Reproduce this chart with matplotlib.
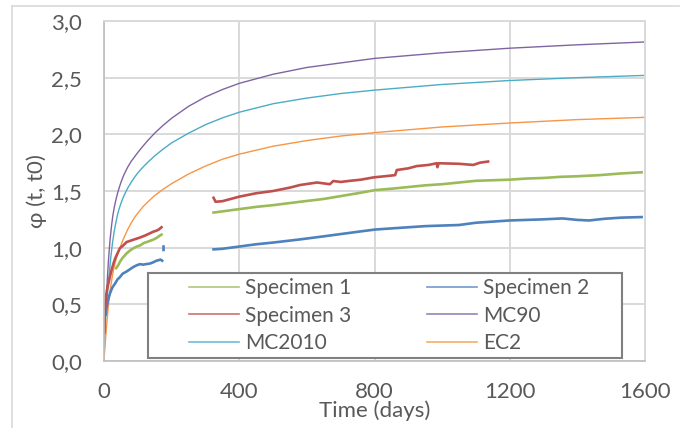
import numpy as np
import matplotlib
matplotlib.use("Agg")
import matplotlib.pyplot as plt
from matplotlib.lines import Line2D
from matplotlib.patches import Rectangle

plt.rcParams['font.family'] = ['Lato', 'DejaVu Sans']

# ---- creep-coefficient models (days after loading, phi) ----
model_days = [0, 1, 2, 3, 4, 5, 6, 8, 10, 12, 14, 16, 18, 20, 23, 26, 30, 35, 40,
              45, 50, 55, 60, 70, 80, 90, 100, 115, 130, 150, 175, 200, 250, 300,
              350, 400, 500, 600, 700, 800, 1000, 1200, 1400, 1600]
mc90 = [0, 0.15, 0.26, 0.35, 0.41, 0.46, 0.51, 0.62, 0.73, 0.83, 0.92, 1.00, 1.07,
        1.13, 1.21, 1.28, 1.35, 1.42, 1.48, 1.53, 1.575, 1.615, 1.65, 1.71, 1.76,
        1.80, 1.84, 1.895, 1.947, 2.011, 2.08, 2.142, 2.247, 2.33, 2.395, 2.45,
        2.53, 2.59, 2.63, 2.67, 2.72, 2.76, 2.79, 2.815]
mc2010 = [0, 0.10, 0.19, 0.27, 0.33, 0.38, 0.43, 0.51, 0.59, 0.66, 0.73, 0.79, 0.85,
          0.91, 0.99, 1.06, 1.14, 1.22, 1.29, 1.345, 1.39, 1.43, 1.465, 1.525, 1.575,
          1.62, 1.66, 1.71, 1.755, 1.81, 1.87, 1.925, 2.01, 2.085, 2.145, 2.195,
          2.27, 2.32, 2.36, 2.39, 2.44, 2.475, 2.50, 2.52]
ec2 = [0, 0.05, 0.09, 0.13, 0.17, 0.21, 0.25, 0.32, 0.39, 0.46, 0.52, 0.57, 0.62,
       0.66, 0.72, 0.77, 0.83, 0.89, 0.94, 0.98, 1.02, 1.06, 1.095, 1.16, 1.215,
       1.265, 1.305, 1.36, 1.405, 1.46, 1.515, 1.565, 1.65, 1.72, 1.78, 1.825,
       1.895, 1.945, 1.985, 2.015, 2.065, 2.10, 2.13, 2.15]

# ---- measured specimens: early segment, gap, long-term segment ----
s1_days_a = [36, 42, 47, 55, 67, 77, 87, 97, 107, 117, 127, 136, 145, 155, 162, 170]
s1_vals_a = [0.82, 0.845, 0.875, 0.91, 0.95, 0.975, 0.995, 1.01, 1.02, 1.04, 1.05,
             1.06, 1.07, 1.085, 1.10, 1.115]
s1_days_b = [324, 350, 400, 450, 500, 580, 650, 700, 750, 802, 850, 900, 950, 1000,
             1050, 1100, 1150, 1200, 1250, 1300, 1350, 1400, 1466, 1530, 1590]
s1_vals_b = [1.31, 1.32, 1.34, 1.36, 1.375, 1.405, 1.43, 1.455, 1.48, 1.508, 1.52,
             1.535, 1.55, 1.56, 1.575, 1.59, 1.595, 1.60, 1.61, 1.615, 1.625, 1.63,
             1.64, 1.655, 1.665]

s2_days_a = [5, 8, 12, 18, 25, 33, 40, 47, 55, 67, 77, 87, 97, 107, 115, 125, 136,
             145, 155, 162, 167, 172]
s2_vals_a = [0.41, 0.48, 0.54, 0.60, 0.65, 0.685, 0.72, 0.74, 0.77, 0.79, 0.81, 0.83,
             0.845, 0.855, 0.85, 0.855, 0.86, 0.87, 0.885, 0.89, 0.895, 0.885]
s2_days_blip = [176, 176]
s2_vals_blip = [0.98, 1.01]
s2_days_b = [324, 350, 400, 450, 500, 580, 650, 700, 750, 802, 850, 900, 950, 1000,
             1050, 1100, 1150, 1200, 1250, 1300, 1356, 1400, 1435, 1480, 1530, 1590]
s2_vals_b = [0.985, 0.99, 1.01, 1.03, 1.045, 1.073, 1.10, 1.12, 1.14, 1.16, 1.17,
             1.18, 1.19, 1.195, 1.20, 1.22, 1.23, 1.24, 1.245, 1.25, 1.258, 1.245,
             1.24, 1.255, 1.265, 1.27]

s3_days_a = [1, 2, 4, 6, 9, 13, 18, 23, 28, 33, 40, 47, 57, 67, 77, 87, 97, 107,
             120, 136, 145, 155, 162, 170]
s3_vals_a = [0.25, 0.40, 0.50, 0.57, 0.63, 0.685, 0.75, 0.81, 0.86, 0.905, 0.95,
             0.995, 1.02, 1.05, 1.06, 1.07, 1.08, 1.09, 1.105, 1.127, 1.14, 1.15,
             1.16, 1.18]
s3_days_b = [324, 330, 350, 400, 450, 500, 550, 580, 630, 668, 678, 700, 728, 760,
             797, 830, 861, 866, 900, 925, 960, 984, 986, 990, 1050, 1092, 1112, 1136]
s3_vals_b = [1.44, 1.405, 1.41, 1.45, 1.48, 1.50, 1.53, 1.553, 1.575, 1.56, 1.588,
             1.58, 1.59, 1.60, 1.62, 1.63, 1.64, 1.685, 1.70, 1.72, 1.73, 1.745,
             1.71, 1.745, 1.74, 1.73, 1.75, 1.76]

x_ticks = [0, 400, 800, 1200, 1600]
x_tick_labels = ["0", "400", "800", "1200", "1600"]
y_ticks = [0.0, 0.5, 1.0, 1.5, 2.0, 2.5, 3.0]
y_tick_labels = ["0,0", "0,5", "1,0", "1,5", "2,0", "2,5", "3,0"]

C_S1 = "#9BBB59"
C_S2 = "#4F81BD"
C_S3 = "#C0504D"
C_MC90 = "#8064A2"
C_MC2010 = "#4BACC6"
C_EC2 = "#F79646"
TXT = "#595959"
GRID = "#D9D9D9"


def joined(*segments):
    xs, ys = [], []
    for i, (d, v) in enumerate(segments):
        if i:
            xs.append(np.nan)
            ys.append(np.nan)
        xs.extend(d)
        ys.extend(v)
    return np.array(xs, float), np.array(ys, float)


fig = plt.figure(figsize=(6.87, 4.28), dpi=100)
ax = fig.add_axes([104 / 687, 1 - 361 / 428, 541 / 687, 340 / 428])

ax.plot(model_days, mc90, color=C_MC90, lw=1.0)
ax.plot(model_days, mc2010, color=C_MC2010, lw=1.0)
ax.plot(model_days, ec2, color=C_EC2, lw=1.0)

x, y = joined((s1_days_a, s1_vals_a), (s1_days_b, s1_vals_b))
ax.plot(x, y, color=C_S1, lw=1.9)
x, y = joined((s2_days_a, s2_vals_a), (s2_days_blip, s2_vals_blip), (s2_days_b, s2_vals_b))
ax.plot(x, y, color=C_S2, lw=1.9)
x, y = joined((s3_days_a, s3_vals_a), (s3_days_b, s3_vals_b))
ax.plot(x, y, color=C_S3, lw=1.9)

ax.set_xlim(0, 1600)
ax.set_ylim(0, 3.0)
ax.set_xticks(x_ticks)
ax.set_xticklabels(x_tick_labels)
ax.set_yticks(y_ticks)
ax.set_yticklabels(y_tick_labels)
ax.tick_params(length=0, labelsize=16, labelcolor=TXT)
ax.tick_params(axis='x', pad=15)
ax.tick_params(axis='y', pad=16)
ax.grid(True, color=GRID, lw=1.4)
ax.set_axisbelow(True)
for side in ("left", "bottom"):
    ax.spines[side].set_color("#BFBFBF")
    ax.spines[side].set_linewidth(1.2)
for side in ("top", "right"):
    ax.spines[side].set_color(GRID)
    ax.spines[side].set_linewidth(1.4)

ax.set_xlabel("Time (days)", fontsize=16, color=TXT)
ax.xaxis.set_label_coords(0.5, -0.115)
ax.set_ylabel("φ (t, t0)", fontsize=16, color=TXT, va='center')
ax.yaxis.set_label_coords(-0.124, 0.5)

# legend box
ax.add_patch(Rectangle((0.0813, 0.0088), 0.8762, 0.2500, transform=ax.transAxes,
                       facecolor="white", edgecolor="#808080", lw=1.5, zorder=5))
entries = [("Specimen 1", C_S1), ("Specimen 3", C_S3), ("MC2010", C_MC2010),
           ("Specimen 2", C_S2), ("MC90", C_MC90), ("EC2", C_EC2)]
handles = [Line2D([], [], color=c, lw=1.2, alpha=0.8) for _, c in entries]
leg = ax.legend(handles, [n for n, _ in entries], ncol=2, loc='upper left',
                bbox_to_anchor=((189 - 104) / 541, (361 - 278) / 340),
                frameon=False, fontsize=15, borderpad=0, borderaxespad=0,
                handlelength=2.4, handletextpad=0.3, labelspacing=0.37,
                columnspacing=3.6, labelcolor=TXT)
leg.set_zorder(6)

# outer chart border
fig.add_artist(Line2D([12 / 687, 12 / 687], [0, 1 - 6 / 428], transform=fig.transFigure,
                      color=GRID, lw=1.2))
fig.add_artist(Line2D([12 / 687, 679 / 687], [1 - 6 / 428, 1 - 6 / 428],
                      transform=fig.transFigure, color=GRID, lw=1.2))

fig.savefig("out.png", dpi=100)
